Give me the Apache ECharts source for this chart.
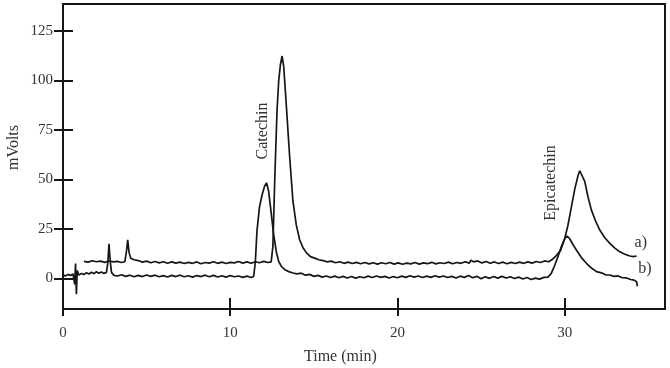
<!DOCTYPE html>
<html>
<head>
<meta charset="utf-8">
<script src="https://cdn.jsdelivr.net/npm/echarts@6/dist/echarts.min.js"></script>
<style>html,body{margin:0;padding:0;background:#fff}#c{width:670px;height:368px}</style>
</head>
<body>
<div id="c"></div>
<script>
// ---- data ----
var xTicks = [0, 10, 20, 30];
var yTicks = [0, 25, 50, 75, 100, 125];

var timesA = [1.25,1.5,1.75,2.0,2.25,2.5,2.75,3.0,3.25,3.5,3.7,3.8,3.87,3.95,4.05,4.25,4.5,4.75,5.0,5.25,5.5,5.75,6.0,6.25,6.5,6.75,7.0,7.25,7.5,7.75,8.0,8.25,8.5,8.75,9.0,9.25,9.5,9.75,10.0,10.25,10.5,10.75,11.0,11.25,11.5,11.75,12.0,12.25,12.45,12.55,12.67,12.8,12.9,13.0,13.1,13.2,13.35,13.55,13.75,13.95,14.15,14.35,14.55,14.8,15.05,15.3,15.55,15.8,16.05,16.3,16.55,16.8,17.05,17.3,17.55,17.8,18.05,18.3,18.55,18.8,19.05,19.3,19.55,19.8,20.05,20.3,20.55,20.8,21.05,21.3,21.55,21.8,22.05,22.3,22.55,22.8,23.05,23.3,23.55,23.8,24.05,24.3,24.4,24.55,24.8,25.05,25.3,25.55,25.8,26.05,26.3,26.55,26.8,27.05,27.3,27.55,27.8,28.05,28.3,28.55,28.8,29.05,29.25,29.5,29.75,30.0,30.2,30.4,30.6,30.8,30.9,31.0,31.2,31.4,31.6,31.85,32.1,32.4,32.7,33.0,33.3,33.6,33.9,34.1,34.3];
var voltsA = [8.6,8.2,8.9,8.4,8.7,8.1,8.8,8.3,8.6,8.0,8.4,14,19.5,13,10.2,9.4,9.0,8.2,8.7,7.9,8.5,7.8,8.4,7.6,8.3,7.7,8.2,7.5,8.1,7.6,8.3,7.4,8.0,7.7,8.4,7.6,8.2,7.5,8.1,7.8,8.5,7.7,8.3,7.6,8.4,7.9,8.6,8.0,8.3,16,52,85,100,108,112.4,107,88,62,39,27,19.5,15.5,13,11,10.2,9.4,9.0,8.3,8.7,7.9,8.4,7.6,8.2,7.5,8.1,7.4,8.0,7.3,7.9,7.2,7.9,7.4,8.0,7.2,7.8,7.1,7.7,7.3,8.0,7.2,7.8,7.4,8.1,7.3,7.9,7.5,8.2,7.4,8.0,7.6,8.4,7.7,9.2,8.3,8.8,7.8,8.5,7.6,8.3,7.5,8.2,7.4,8.1,7.5,8.2,7.6,8.3,7.7,8.5,8.0,8.8,8.4,9.5,11.5,14,20,27,36,45,52,54.4,54,49,41,34.5,29,24.4,20.5,17.7,15.3,13.4,12.2,11.3,11.0,11.3];

var timesB = [0.0,0.15,0.3,0.45,0.6,0.7,0.75,0.8,0.85,0.95,1.1,1.25,1.4,1.55,1.7,1.85,2.0,2.15,2.3,2.45,2.6,2.68,2.75,2.82,2.9,3.05,3.25,3.5,3.75,4.0,4.25,4.5,4.75,5.0,5.25,5.5,5.75,6.0,6.25,6.5,6.75,7.0,7.25,7.5,7.75,8.0,8.25,8.5,8.75,9.0,9.25,9.5,9.75,10.0,10.25,10.5,10.75,11.0,11.25,11.4,11.5,11.6,11.75,11.9,12.05,12.17,12.3,12.45,12.6,12.77,12.9,13.07,13.3,13.5,13.75,14.0,14.25,14.5,14.75,15.0,15.25,15.5,15.75,16.0,16.25,16.5,16.75,17.0,17.25,17.5,17.75,18.0,18.25,18.5,18.75,19.0,19.25,19.5,19.75,20.0,20.25,20.5,20.75,21.0,21.25,21.5,21.75,22.0,22.25,22.5,22.75,23.0,23.25,23.5,23.75,24.0,24.25,24.5,24.75,25.0,25.25,25.5,25.75,26.0,26.25,26.5,26.75,27.0,27.25,27.5,27.75,28.0,28.25,28.5,28.75,29.0,29.2,29.4,29.6,29.8,30.0,30.15,30.3,30.5,30.7,31.0,31.3,31.6,31.9,32.2,32.45,32.7,32.95,33.2,33.45,33.7,33.95,34.15,34.3,34.35];
var voltsB = [1.8,1.2,2.0,1.4,2.2,-3,7.5,-8,4,1.6,2.5,1.9,2.8,2.2,3.1,2.4,3.3,2.6,3.2,2.5,3.0,8,17.5,9,3.0,1.5,1.2,1.8,1.0,1.6,0.8,1.5,0.9,1.7,1.0,1.6,0.8,1.4,0.7,1.5,0.9,1.6,0.8,1.3,0.6,1.4,0.9,1.6,0.8,1.5,0.7,1.3,0.6,1.4,0.8,1.2,0.5,1.1,0.4,0.9,8,24,36,42,46.5,48.3,44,33,22,12.8,8.5,5.9,4.2,3.4,2.7,2.3,2.6,1.6,2.0,1.0,1.5,0.6,1.2,0.4,1.1,0.3,1.0,0.2,0.9,0.1,0.8,0.3,1.1,0.4,1.2,0.5,1.0,0.2,0.9,0.3,1.1,0.5,1.3,0.6,1.2,0.4,1.1,0.5,1.3,0.6,1.2,0.4,1.0,0.2,1.1,0.5,1.4,0.3,1.0,-0.2,0.8,0.0,0.9,0.1,1.0,0.2,0.8,-0.1,0.6,-0.3,0.4,-0.6,0.1,-0.4,0.5,0.6,2.5,6.5,11,16,20,21.4,20,17,14.3,10.5,7.6,5.2,3.4,2.8,1.8,1.7,1.0,1.2,0.3,0.2,-0.6,-0.9,-1.7,-4];

// annotations (data coordinates)
var peakNames = ['Catechin', 'Epicatechin'];
var peakLabelPos = [[11.93, 74.5], [29.16, 48.2]];
var traceNames = ['a)', 'b)'];
var traceLabelPos = [[34.55, 17.8], [34.8, 4.6]];

function pairs(t, v) { return t.map(function (x, i) { return [x, v[i]]; }); }

var FONT = '"Liberation Serif", "DejaVu Serif", serif';
var INK = '#161616';

var chart = echarts.init(document.getElementById('c'), null, { renderer: 'canvas' });

var textMarks = [];
peakNames.forEach(function (n, i) {
  textMarks.push({ coord: peakLabelPos[i], value: n, label: { formatter: n, rotate: 90 } });
});
traceNames.forEach(function (n, i) {
  textMarks.push({ coord: traceLabelPos[i], value: n, label: { formatter: n, rotate: 0 } });
});

var baseX = { type: 'value', min: 0, max: 36, gridIndex: 0 };
var baseY = { type: 'value', min: -15.5, max: 138.7, gridIndex: 0 };

chart.setOption({
  animation: false,
  backgroundColor: '#fff',
  grid: { left: 63, right: 5, top: 4, bottom: 59, show: true, borderColor: INK, borderWidth: 2, backgroundColor: 'transparent' },
  xAxis: [
    Object.assign({}, baseX, {
      position: 'bottom',
      axisLine: { show: true, onZero: false, lineStyle: { color: INK, width: 2 } },
      axisTick: { show: true, inside: false, length: 7, customValues: xTicks, lineStyle: { color: INK, width: 2 } },
      axisLabel: { show: true, customValues: xTicks, margin: 17, color: '#333', fontFamily: FONT, fontSize: 15 },
      splitLine: { show: false }
    }),
    Object.assign({}, baseX, {
      position: 'bottom',
      axisLine: { show: false, onZero: false },
      axisTick: { show: true, inside: true, length: 11, customValues: xTicks, lineStyle: { color: INK, width: 2 } },
      axisLabel: { show: false },
      splitLine: { show: false }
    })
  ],
  yAxis: [
    Object.assign({}, baseY, {
      position: 'left',
      axisLine: { show: true, onZero: false, lineStyle: { color: INK, width: 2 } },
      axisTick: { show: true, inside: false, length: 9, customValues: yTicks, lineStyle: { color: INK, width: 2 } },
      axisLabel: { show: true, customValues: yTicks, margin: 10, color: '#333', fontFamily: FONT, fontSize: 15 },
      splitLine: { show: false }
    }),
    Object.assign({}, baseY, {
      position: 'left',
      axisLine: { show: false, onZero: false },
      axisTick: { show: true, inside: true, length: 10, customValues: yTicks, lineStyle: { color: INK, width: 2 } },
      axisLabel: { show: false },
      splitLine: { show: false }
    })
  ],
  graphic: [
    { type: 'text', left: 6, top: 125, rotation: Math.PI / 2, style: { text: 'mVolts', font: '16px ' + FONT, fill: '#333' } },
    { type: 'text', left: 304, top: 349, style: { text: 'Time (min)', font: '16px ' + FONT, fill: '#333' } }
  ],
  series: [
    {
      name: 'a', type: 'line', xAxisIndex: 0, yAxisIndex: 0,
      data: pairs(timesA, voltsA), showSymbol: false, symbol: 'none',
      lineStyle: { color: INK, width: 1.7 }, z: 3,
      markPoint: {
        symbol: 'circle', symbolSize: 1, itemStyle: { color: 'rgba(0,0,0,0)' },
        label: { show: true, position: 'inside', color: '#333', fontFamily: FONT, fontSize: 16 },
        data: textMarks
      }
    },
    {
      name: 'b', type: 'line', xAxisIndex: 0, yAxisIndex: 0,
      data: pairs(timesB, voltsB), showSymbol: false, symbol: 'none',
      lineStyle: { color: INK, width: 1.7 }, z: 3
    }
  ]
});
</script>
</body>
</html>
